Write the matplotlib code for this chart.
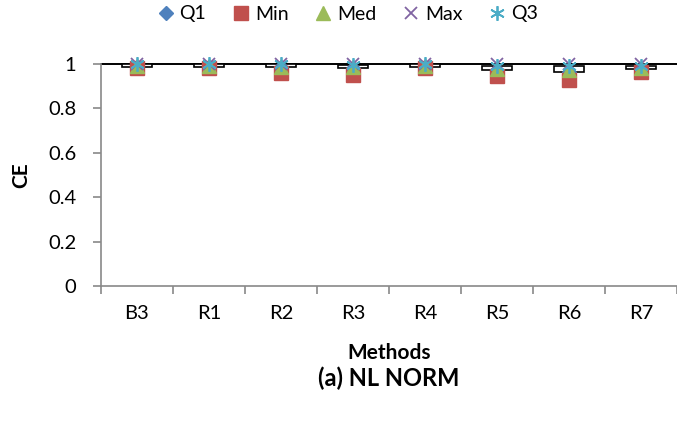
import numpy as np
import matplotlib
matplotlib.use("Agg")
import matplotlib.pyplot as plt

plt.rcParams['font.family'] = ['Lato', 'DejaVu Sans']

methods = ["B3", "R1", "R2", "R3", "R4", "R5", "R6", "R7"]
q1 = [0.988, 0.988, 0.986, 0.983, 0.988, 0.972, 0.966, 0.977]
vmin = [0.980, 0.980, 0.961, 0.952, 0.980, 0.948, 0.930, 0.962]
med = [0.990, 0.990, 0.985, 0.985, 0.990, 0.978, 0.972, 0.982]
vmax = [1.0, 1.0, 1.0, 1.0, 1.0, 1.0, 1.0, 1.0]
q3 = [0.998, 0.998, 0.998, 0.997, 0.998, 0.991, 0.992, 0.993]

W, H = 677, 430
fig = plt.figure(figsize=(W / 100, H / 100), dpi=100)
ax = fig.add_axes([101/W, 1-286/H, 576/W, 222/H])

x = np.arange(len(methods))
axis_col = "#898989"

# up-down bars (box from Q1 to Q3)
ax.bar(x, np.array(q3) - np.array(q1), bottom=q1, width=0.42,
       facecolor="white", edgecolor="black", linewidth=1.2, zorder=2, clip_on=False)
ax.axhline(1.0, color="black", lw=1.4, zorder=1.5, clip_on=False)

ax.plot(x, q1, "D", color="#4F81BD", ms=7.5, ls="none", label="Q1", zorder=3, clip_on=False)
ax.plot(x, vmin, "s", color="#C0504D", ms=9.5, ls="none", label="Min", zorder=3, clip_on=False)
ax.plot(x, med, "^", color="#9BBB59", ms=9.5, ls="none", label="Med", zorder=3, clip_on=False)
ax.plot(x, vmax, "x", color="#8064A2", ms=9, mew=1.3, ls="none", label="Max", zorder=3, clip_on=False)
ax.plot(x, q3, marker=(6, 2, 0), color="#4BACC6", ms=10.5, mew=1.3, ls="none", label="Q3", zorder=3, clip_on=False)

ax.set_xlim(-0.5, len(methods) - 0.5)
ax.set_ylim(0, 1)
ax.set_yticks(np.arange(0, 1.01, 0.2))
ax.set_yticklabels(["0", "0.2", "0.4", "0.6", "0.8", "1"])
ax.set_xticks(x)
ax.set_xticklabels(methods)
ax.set_xticks(np.arange(-0.5, len(methods)), minor=True)
ax.tick_params(axis="x", which="major", length=0, pad=24, labelsize=14.5)
plt.setp(ax.get_xticklabels(), va="baseline")
ax.tick_params(axis="x", which="minor", length=5.5, width=1.2, color=axis_col)
ax.tick_params(axis="y", length=5.8, width=1.2, color=axis_col, labelsize=14.5, pad=12)

for s in ["top", "right"]:
    ax.spines[s].set_visible(False)
for s in ["left", "bottom"]:
    ax.spines[s].set_color(axis_col)
    ax.spines[s].set_linewidth(1.2)

ax.set_ylabel("CE", fontsize=15, fontweight="bold", va="center")
ax.yaxis.set_label_coords((21 - 101) / 576, 0.5)
fig.text(389 / W, 1 - 359 / H, "Methods", ha="center", va="baseline",
         fontsize=15, fontweight="bold")
fig.text(389 / W, 1 - 386 / H, "(a) NL NORM", ha="center", va="baseline",
         fontsize=17, fontweight="bold")

fig.legend(loc="center", bbox_to_anchor=(347 / W, 1 - 14 / H), ncol=5, frameon=False,
           fontsize=14, handletextpad=0.2, columnspacing=1.3, handlelength=1.0,
           borderaxespad=0, borderpad=0)

fig.savefig("out.png", dpi=100)
